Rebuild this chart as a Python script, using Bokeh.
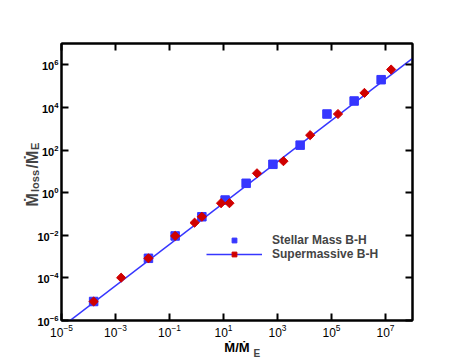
import numpy as np
from bokeh.plotting import figure
from bokeh.models import (LogAxis, Label, Legend, LegendItem, FixedTicker,
                          Range1d, CustomJSTickFormatter)
from bokeh.embed import file_html
from bokeh.resources import INLINE

# ---- data ----
x_ticks = [1e-5, 1e-3, 1e-1, 1e1, 1e3, 1e5, 1e7]
y_ticks = [1e-6, 1e-4, 1e-2, 1e0, 1e2, 1e4, 1e6]

stellar_x = [1.55e-4, 1.66e-2, 0.162, 1.58, 11.5, 69.0, 676.0, 6.9e3, 6.8e4, 6.9e5, 6.9e6]
stellar_y = [7.8e-6, 8.3e-4, 9.3e-3, 7.4e-2, 0.45, 2.75, 21.4, 170.0, 4.9e3, 2.0e4, 2.0e5]

smbh_x = [1.55e-4, 1.62e-3, 1.66e-2, 0.162, 0.85, 1.58, 8.1, 16.6, 174.0, 1.66e3,
          1.62e4, 1.74e5, 1.66e6, 1.62e7]
smbh_y = [7.8e-6, 1.02e-4, 8.3e-4, 9.3e-3, 3.9e-2, 7.4e-2, 0.32, 0.32, 8.1, 30.0,
          500.0, 4.9e3, 4.8e4, 6.0e5]

fit_x = [1e-5, 1e8]
fit_y = [4.9e-7, 2.0e6]

x_label = "Ṁ/Ṁ"
x_sub = "E"
y_parts = ["Ṁ", "loss", "/Ṁ", "E"]

BLUE = "#3636ff"
RED = "#d00000"
FONT = "Liberation Sans"

p = figure(frame_width=351, frame_height=277,
           x_axis_type="log", y_axis_type="log",
           x_range=Range1d(1e-5, 1e8), y_range=Range1d(1e-6, 1e7),
           output_backend="svg", toolbar_location=None,
           min_border_left=61, min_border_top=43, min_border_right=50,
           min_border_bottom=38)

p.grid.visible = False
p.outline_line_color = "black"
p.outline_line_width = 2

def style_axis(ax, ticks, show_labels, font_size="12px", bold=False):
    ax.ticker = FixedTicker(ticks=ticks, minor_ticks=[])
    ax.major_tick_in = 7
    ax.major_tick_out = 0
    ax.minor_tick_in = 0
    ax.minor_tick_out = 0
    ax.major_tick_line_width = 2
    ax.major_tick_line_color = "black"
    ax.axis_line_width = 2
    ax.axis_line_color = "black"
    ax.major_label_text_font = FONT
    ax.major_label_text_font_size = font_size
    ax.major_label_text_color = "black"
    ax.major_label_text_font_style = "bold" if bold else "normal"
    ax.major_label_standoff = 3
    ax.axis_label_text_font = FONT
    ax.axis_label_text_font_style = "bold"
    ax.axis_label_text_color = "black"
    if not show_labels:
        ax.formatter = CustomJSTickFormatter(code="return ''")
        ax.major_label_standoff = 0

style_axis(p.xaxis[0], x_ticks, True, "12px", False)
style_axis(p.yaxis[0], y_ticks, True, "11px", True)
p.xaxis[0].axis_label = x_label
p.xaxis[0].axis_label_text_font_size = "13px"
p.xaxis[0].axis_label_standoff = 0

top = LogAxis()
style_axis(top, x_ticks, False, "2px")
p.add_layout(top, "above")
right = LogAxis()
style_axis(right, y_ticks, False, "2px")
p.add_layout(right, "right")

fit = p.line(fit_x, fit_y, line_color=BLUE, line_width=1.5)
sq = p.scatter(stellar_x, stellar_y, marker="square", size=8.5,
               fill_color=BLUE, line_color=BLUE)
dm = p.scatter(smbh_x, smbh_y, marker="square", angle=np.pi / 4, size=6.5,
               fill_color=RED, line_color=RED)

legend = Legend(items=[LegendItem(label="Stellar Mass B-H", renderers=[sq]),
                       LegendItem(label="Supermassive B-H", renderers=[fit, dm])],
                location=(145, 59), border_line_color=None,
                background_fill_alpha=0, label_text_font=FONT,
                label_text_font_style="bold", label_text_font_size="12px",
                glyph_width=56, glyph_height=12, label_height=12,
                spacing=-2, padding=0, margin=0, label_standoff=10)
p.add_layout(legend, "center")

# Title pieces anchored at the frame's lower-left corner, shifted in px.
# They live in side panels so that they are not clipped to the frame.
def piece(text, dx, dy, size, angle=0.0):
    return Label(x=x_ticks[0], y=y_ticks[0], x_units="data", y_units="data",
                 x_offset=dx, y_offset=dy, text=text, angle=angle,
                 text_font=FONT, text_font_style="bold", text_font_size=size,
                 text_baseline="alphabetic", text_align="left")

p.add_layout(piece(x_sub, 192, -33, "10px"), "above")
rot = np.pi / 2
p.add_layout(piece(y_parts[0], -29.5, 114, "16px", rot), "above")
p.add_layout(piece(y_parts[1], -27, 128.5, "11px", rot), "right")
p.add_layout(piece(y_parts[2], -29.5, 152, "16px", rot), "right")
p.add_layout(piece(y_parts[3], -27, 170.5, "11px", rot), "above")

open("out.html", "w").write(file_html(p, INLINE))
